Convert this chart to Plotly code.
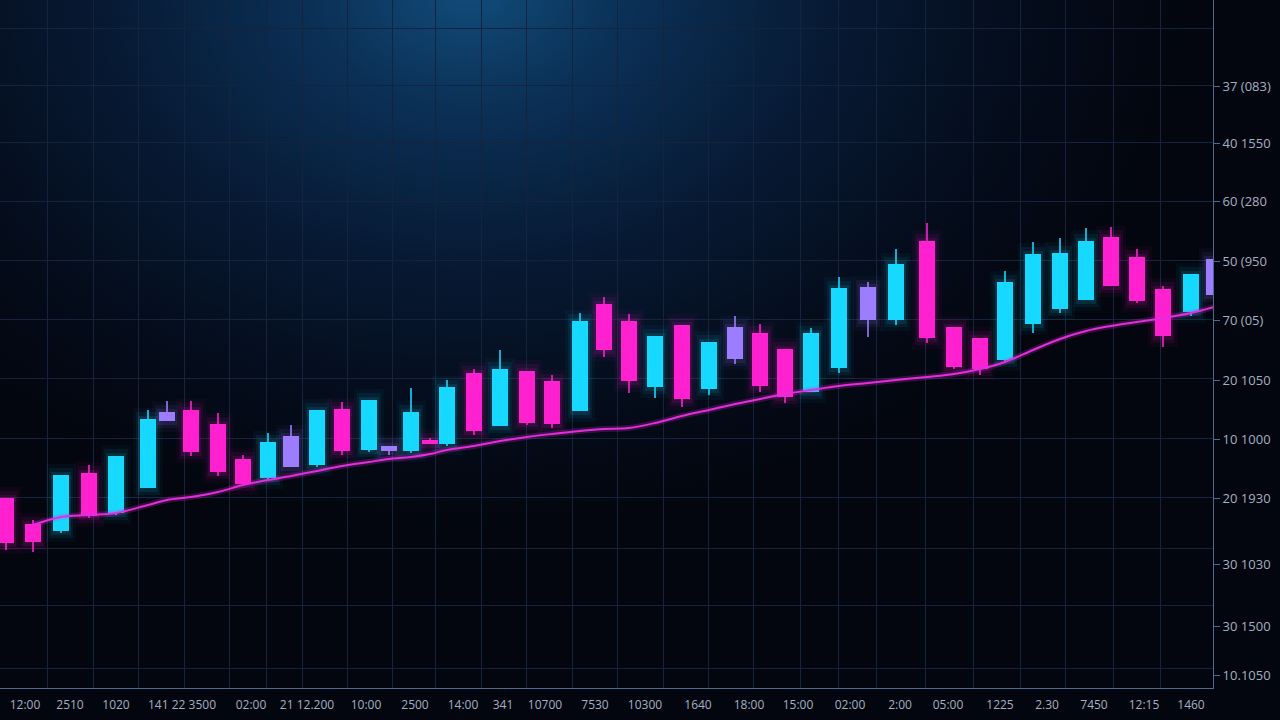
import base64
import plotly.graph_objects as go

# ---------------- data ----------------
t = [6, 33, 61, 89, 116, 148, 167, 191, 218, 243, 268, 291, 317, 342, 369, 389,
     411, 430, 447, 474, 500, 527, 552, 580, 604, 629, 655, 682, 709, 735, 760, 785,
     811, 839, 868, 896, 927, 954, 980, 1005, 1033, 1060, 1086, 1111, 1137, 1163, 1191, 1214]

open_ = [20.2, 17.6, 16.9, 22.7, 18.7, 21.2, 28.8, 29.0, 27.6, 24.1, 22.2, 23.3, 23.5, 29.1, 25.0, 25.4,
         24.9, 26.0, 25.6, 32.7, 27.4, 32.9, 31.9, 28.9, 39.6, 37.9, 31.3, 37.5, 31.1, 34.1, 36.7, 35.1,
         30.8, 33.2, 41.3, 38.0, 45.9, 37.3, 36.2, 34.0, 37.6, 39.1, 40.0, 46.3, 44.3, 41.1, 38.8, 40.5]
high = [20.2, 18.0, 22.5, 23.5, 24.4, 29.0, 29.9, 29.9, 28.7, 24.5, 26.7, 27.5, 29.0, 29.8, 30.0, 25.4,
        31.2, 26.2, 32.0, 33.1, 35.0, 32.9, 32.5, 38.7, 40.3, 38.6, 36.4, 37.5, 35.8, 38.4, 37.6, 35.1,
        37.2, 42.3, 41.8, 45.1, 47.7, 37.3, 36.2, 42.9, 45.8, 46.2, 47.2, 47.3, 45.1, 41.4, 42.6, 44.1]
low = [15.0, 14.8, 16.7, 18.2, 18.5, 21.2, 27.9, 24.4, 22.4, 21.4, 22.0, 23.3, 23.3, 24.5, 24.8, 24.5,
       24.7, 25.6, 25.4, 26.5, 27.4, 27.5, 27.2, 28.9, 34.3, 30.7, 30.2, 29.3, 30.5, 33.6, 30.8, 29.7,
       30.8, 32.7, 36.3, 37.5, 35.7, 33.1, 32.5, 33.8, 36.7, 38.7, 40.0, 41.4, 39.7, 35.3, 38.4, 40.5]
close = [15.7, 15.8, 22.5, 18.4, 24.4, 28.1, 27.9, 24.8, 22.8, 21.6, 25.8, 26.4, 29.0, 24.9, 30.0, 24.9,
         28.8, 25.6, 31.3, 26.9, 33.1, 27.7, 27.6, 37.9, 35.0, 31.9, 36.4, 30.1, 35.8, 37.3, 31.4, 30.3,
         36.7, 41.2, 38.0, 43.6, 36.2, 33.3, 33.1, 41.8, 44.6, 44.7, 45.9, 41.4, 39.9, 36.4, 42.6, 44.1]
kind = ["down", "down", "up", "down", "up", "up", "flat", "down", "down", "down", "up", "flat",
        "up", "down", "up", "flat", "up", "down", "up", "down", "up", "down", "down", "up",
        "down", "down", "up", "down", "up", "flat", "down", "down", "up", "up", "flat", "up",
        "down", "down", "down", "up", "up", "up", "up", "down", "down", "down", "up", "flat"]

ma = [None, 17.5, 18.3, 18.5, 18.7, 19.5, 20.0, 20.3, 20.8, 21.5, 22.0, 22.4, 22.9, 23.4, 23.8, 24.1,
      24.3, 24.6, 25.0, 25.4, 25.9, 26.3, 26.6, 26.9, 27.1, 27.2, 27.7, 28.4, 29.0, 29.6, 30.1, 30.6,
      31.0, 31.4, 31.7, 32.0, 32.3, 32.6, 33.1, 33.8, 35.0, 36.1, 36.9, 37.4, 37.8, 38.2, 38.7, 39.3]

x_tick_vals = [25, 70, 116, 182, 251, 307, 366, 415, 463, 503, 545, 595, 645, 698, 749, 798,
               850, 900, 948, 1000, 1047, 1094, 1144, 1191]
x_tick_text = ["12:00", "2510", "1020", "141 22 3500", "02:00", "21 12.200", "10:00", "2500",
               "14:00", "341", "10700", "7530", "10300", "1640", "18:00", "15:00", "02:00",
               "2:00", "05:00", "1225", "2.30", "7450", "12:15", "1460"]
x_grid_vals = [47, 93, 138, 184, 229, 266, 302, 347, 392, 435, 481, 526, 572, 617, 663, 708,
               753, 800, 838, 876, 925, 973, 1020, 1065, 1113, 1160]

y_tick_vals = [61.4, 55.7, 49.9, 43.9, 38.0, 32.0, 26.1, 20.2, 13.6, 7.4, 2.5]
y_tick_text = ["37 (083)", "40 1550", "60 (280", "50 (950", "70 (05)", "20 1050", "10 1000",
               "20 1930", "30 1030", "30 1500", "10.1050"]
y_grid_vals = [67.2, 61.45, 55.75, 49.85, 44.0, 38.05, 32.2, 26.2, 20.3, 15.2, 9.5, 3.2]

# ---------------- styling ----------------
COL = {"up": "#17D8FF", "down": "#FF21CF", "flat": "#9C7DFF"}
RGB = {"up": "23,216,255", "down": "255,33,207", "flat": "156,125,255"}
MA_COL = "#E42DDC"
AXIS_COL = "#4C6B8E"
GRID_COL = "#15243C"
TXT_COL = "#A3B0C2"

body_base = [min(o, c) for o, c in zip(open_, close)]
body_h = [max(abs(c - o), 0.35) for o, c in zip(open_, close)]
colors = [COL[k] for k in kind]

fig = go.Figure()

# soft glow halo behind bodies (faint layers)
for w, pad, a in [(30, 1.1, 0.04), (24, 0.7, 0.07), (20, 0.35, 0.10)]:
    fig.add_trace(go.Bar(x=t, y=[h + 2 * pad for h in body_h], base=[b - pad for b in body_base],
                         width=w, marker=dict(color=[f"rgba({RGB[k]},{a})" for k in kind], line=dict(width=0)),
                         hoverinfo="skip", showlegend=False))

# wicks
for k in ["up", "down", "flat"]:
    wx, wy = [], []
    for xi, hi, lo, kk in zip(t, high, low, kind):
        if kk == k:
            wx += [xi, xi, None]
            wy += [lo, hi, None]
    fig.add_trace(go.Scatter(x=wx, y=wy, mode="lines",
                             line=dict(color=COL[k], width=1.6),
                             hoverinfo="skip", showlegend=False))

# bodies
fig.add_trace(go.Bar(x=t, y=body_h, base=body_base, width=16,
                     marker=dict(color=colors, line=dict(width=0)),
                     showlegend=False))

# moving average (glow + line)
fig.add_trace(go.Scatter(x=t, y=ma, mode="lines", line=dict(color="rgba(228,45,220,0.22)", width=6, shape="spline"),
                         hoverinfo="skip", showlegend=False))
fig.add_trace(go.Scatter(x=t, y=ma, mode="lines", line=dict(color=MA_COL, width=2, shape="spline"),
                         showlegend=False))

# background glow as an SVG image
svg = """<svg xmlns="http://www.w3.org/2000/svg" width="1280" height="720" viewBox="0 0 1280 720">
<defs>
<radialGradient id="g1" gradientUnits="userSpaceOnUse" cx="470" cy="-10" r="720"
  gradientTransform="translate(470 -10) scale(1 0.75) translate(-470 10)">
<stop offset="0" stop-color="#114c7a"/>
<stop offset="0.22" stop-color="#0b3056"/>
<stop offset="0.5" stop-color="#071a34"/>
<stop offset="0.8" stop-color="#040b19"/>
<stop offset="1" stop-color="#03060e"/>
</radialGradient>
</defs>
<rect width="1280" height="720" fill="#03060e"/>
<rect width="1280" height="720" fill="url(#g1)"/>
</svg>"""
src = "data:image/svg+xml;base64," + base64.b64encode(svg.encode()).decode()

fig.update_layout(
    width=1280, height=720,
    margin=dict(l=0, r=67, t=0, b=32),
    paper_bgcolor="#03060e",
    plot_bgcolor="rgba(0,0,0,0)",
    barmode="overlay",
    bargap=0,
    font=dict(family="Open Sans", color=TXT_COL),
    images=[dict(source=src, xref="paper", yref="paper", x=0, y=1,
                 sizex=1280 / 1213, sizey=720 / 688, xanchor="left", yanchor="top",
                 sizing="stretch", layer="below")],
    xaxis=dict(range=[0, 1213], showgrid=False, zeroline=False,
               tickmode="array", tickvals=x_tick_vals, ticktext=x_tick_text,
               ticks="", ticklabelstandoff=6, tickfont=dict(size=12, color=TXT_COL),
               showline=True, linecolor=AXIS_COL, linewidth=1,
               minor=dict(tickmode="array", tickvals=x_grid_vals, showgrid=True,
                          gridcolor=GRID_COL, gridwidth=1, ticks="")),
    yaxis=dict(range=[1.2, 70], side="right", showgrid=False, zeroline=False,
               tickmode="array", tickvals=y_tick_vals, ticktext=y_tick_text,
               ticks="outside", ticklen=6, tickcolor=AXIS_COL,
               tickfont=dict(size=13, color=TXT_COL),
               showline=True, linecolor=AXIS_COL, linewidth=1,
               minor=dict(tickmode="array", tickvals=y_grid_vals, showgrid=True,
                          gridcolor=GRID_COL, gridwidth=1, ticks="")),
)

fig.write_html("out.html", config={"displayModeBar": False},
               post_script="document.body.style.margin='0';document.body.style.background='#03060e';")
